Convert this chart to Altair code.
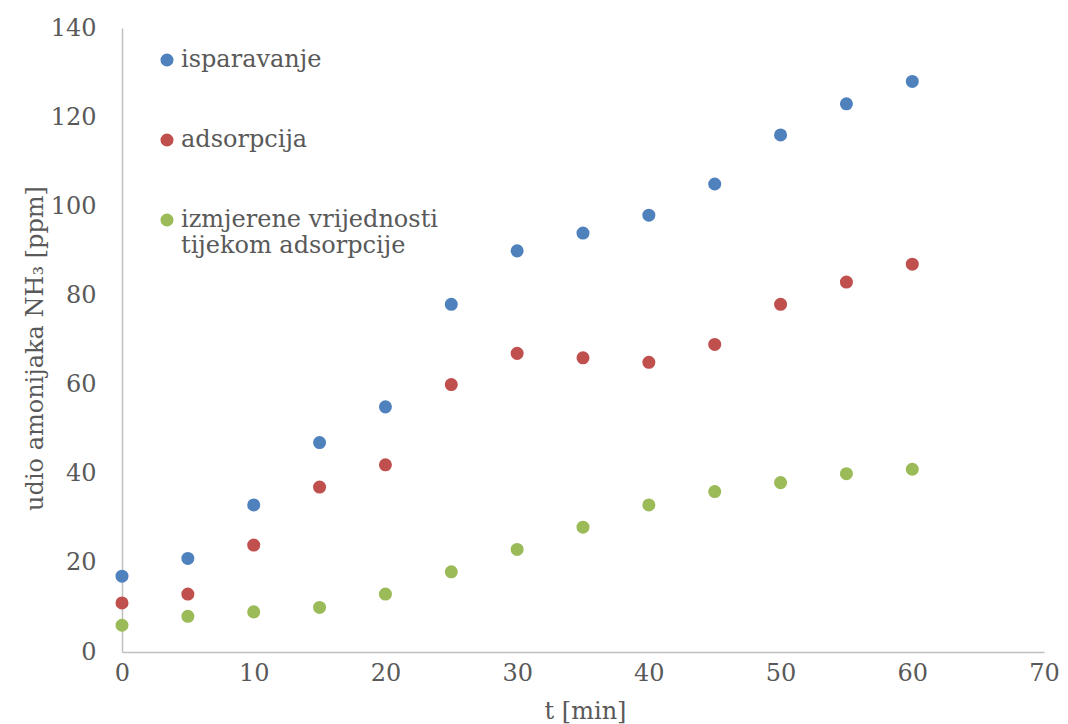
import altair as alt
import pandas as pd

t = [0, 5, 10, 15, 20, 25, 30, 35, 40, 45, 50, 55, 60]
isparavanje = [17, 21, 33, 47, 55, 78, 90, 94, 98, 105, 116, 123, 128]
adsorpcija = [11, 13, 24, 37, 42, 60, 67, 66, 65, 69, 78, 83, 87]
izmjerene = [6, 8, 9, 10, 13, 18, 23, 28, 33, 36, 38, 40, 41]

series_names = ["isparavanje", "adsorpcija", "izmjerene vrijednosti tijekom adsorpcije"]
series_colors = ["#4F81BD", "#C0504D", "#9BBB59"]
x_ticks = [0, 10, 20, 30, 40, 50, 60, 70]
y_ticks = [0, 20, 40, 60, 80, 100, 120, 140]

rows = []
for name, vals in zip(series_names, [isparavanje, adsorpcija, izmjerene]):
    for tt, v in zip(t, vals):
        rows.append({"t": tt, "v": v, "serija": name})
df = pd.DataFrame(rows)

FONT = "DejaVu Serif"
GREY = "#595959"

chart = alt.Chart(df).mark_circle(size=170, opacity=1).encode(
    x=alt.X("t:Q", scale=alt.Scale(domain=[0, 70], nice=False),
            axis=alt.Axis(values=x_ticks, title="t [min]", ticks=False, grid=False,
                          labelFlush=False,
                          labelFontSize=24, labelFont=FONT, labelColor=GREY, labelPadding=9,
                          titleFontSize=24, titleFont=FONT, titleColor=GREY, titleFontWeight="normal",
                          titleBaseline="alphabetic", titleY=66, titleX=463,
                          domainColor="#BFBFBF", domainWidth=1.5)),
    y=alt.Y("v:Q", scale=alt.Scale(domain=[0, 140], nice=False),
            axis=alt.Axis(values=y_ticks, title="udio amonijaka NH₃ [ppm]", ticks=False, grid=False,
                          labelFlush=False,
                          labelFontSize=24, labelFont=FONT, labelColor=GREY, labelPadding=26,
                          titleFontSize=24, titleFont=FONT, titleColor=GREY, titleFontWeight="normal",
                          titleBaseline="alphabetic", titleX=-80, titleY=320,
                          domainColor="#BFBFBF", domainWidth=1.5)),
    color=alt.Color("serija:N",
                    scale=alt.Scale(domain=series_names, range=series_colors),
                    legend=alt.Legend(orient="none", legendX=33, legendY=20, title=None,
                                      labelFont=FONT, labelFontSize=24, labelColor=GREY,
                                      symbolType="circle", symbolSize=170, symbolStrokeWidth=0,
                                      labelLimit=600, rowPadding=56, labelOffset=2,
                                      labelExpr="datum.label == 'izmjerene vrijednosti tijekom adsorpcije' ? ['izmjerene vrijednosti', 'tijekom adsorpcije'] : datum.label")),
).properties(
    width=922, height=624,
    background="white",
    autosize=alt.AutoSizeParams(type="none"),
    padding={"left": 114, "top": 20, "right": 16, "bottom": 72},
).configure_view(stroke=None)

chart.save("out.html", embed_options={"renderer": "svg", "actions": False})
